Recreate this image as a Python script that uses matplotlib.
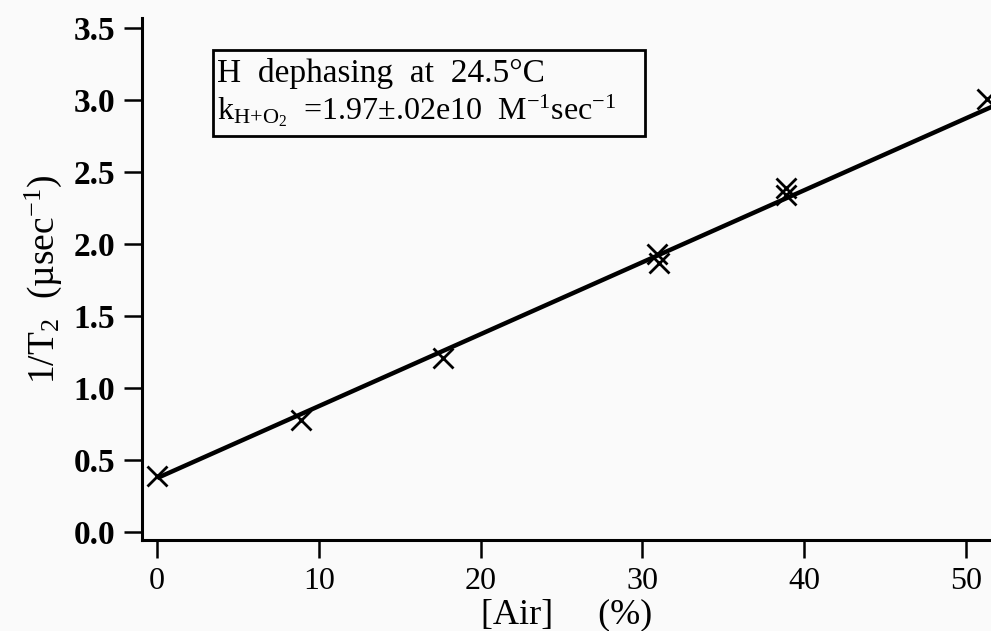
import matplotlib
matplotlib.use('Agg')
import matplotlib.pyplot as plt
from matplotlib.patches import Rectangle

# measured points: air fraction (%) vs dephasing rate 1/T2 (usec^-1)
air = [0.0, 8.9, 17.7, 30.9, 31.0, 38.9, 38.9, 51.3]
rate = [0.39, 0.78, 1.21, 1.93, 1.87, 2.39, 2.34, 3.01]

# linear fit line end points
fit_x = [0.0, 52.0]
fit_y = [0.375, 2.975]

x_ticks = [0, 10, 20, 30, 40, 50]
y_ticks = [0.0, 0.5, 1.0, 1.5, 2.0, 2.5, 3.0, 3.5]
y_tick_labels = ['0.0', '0.5', '1.0', '1.5', '2.0', '2.5', '3.0', '3.5']

plt.rcParams['font.family'] = ['Liberation Serif', 'DejaVu Serif']
plt.rcParams['mathtext.fontset'] = 'custom'
plt.rcParams['mathtext.rm'] = 'Liberation Serif'
plt.rcParams['mathtext.it'] = 'Liberation Serif:italic'
plt.rcParams['mathtext.bf'] = 'Liberation Serif:bold'

bg = '#fafafa'
fig = plt.figure(figsize=(9.91, 6.31), dpi=100, facecolor=bg)
ax = fig.add_axes([0.143, 0.144, 0.857, 0.827], facecolor=bg)

ax.plot(fit_x, fit_y, color='black', linewidth=3.2, solid_capstyle='butt')
ax.plot(air, rate, linestyle='none', marker='x', markersize=14,
        markeredgewidth=2.0, color='black')

ax.set_xlim(-0.95, 51.55)
ax.set_ylim(-0.056, 3.57)

ax.spines['top'].set_visible(False)
ax.spines['right'].set_visible(False)
ax.spines['left'].set_linewidth(2.2)
ax.spines['bottom'].set_linewidth(2.2)

ax.set_xticks(x_ticks)
ax.set_yticks(y_ticks)
ax.set_yticklabels(y_tick_labels)
ax.tick_params(axis='both', direction='out', length=13, width=1.8,
               pad=6, colors='black')
ax.tick_params(axis='x', labelsize=23)
ax.tick_params(axis='y', labelsize=24)
for lab in ax.get_yticklabels():
    lab.set_fontweight('bold')

ax.set_xlabel('[Air]     (%)', fontsize=26)
ax.xaxis.set_label_coords(0.5, -0.112)
ax.set_ylabel(r'1/T$_2$  (µsec$^{-1}$)', fontsize=27, va='center')
ax.yaxis.set_label_coords(-0.116, 0.5)

# annotation box
box = Rectangle((212.7 / 991, 1 - 136 / 631), (645 - 212.7) / 991, 86 / 631,
                transform=fig.transFigure, fill=False, edgecolor='black',
                linewidth=2.0)
fig.patches.append(box)
fig.text(217 / 991, 1 - 82 / 631, 'H  dephasing  at  24.5°C', fontsize=24,
         va='baseline', ha='left')
fig.text(217 / 991, 1 - 119 / 631,
         r'k$_{\mathrm{H{+}O_2}}$  =1.97±.02e10  M$^{\mathrm{-1}}$sec$^{\mathrm{-1}}$',
         fontsize=23, va='baseline', ha='left')

fig.savefig('out.png', dpi=100, facecolor=bg)
